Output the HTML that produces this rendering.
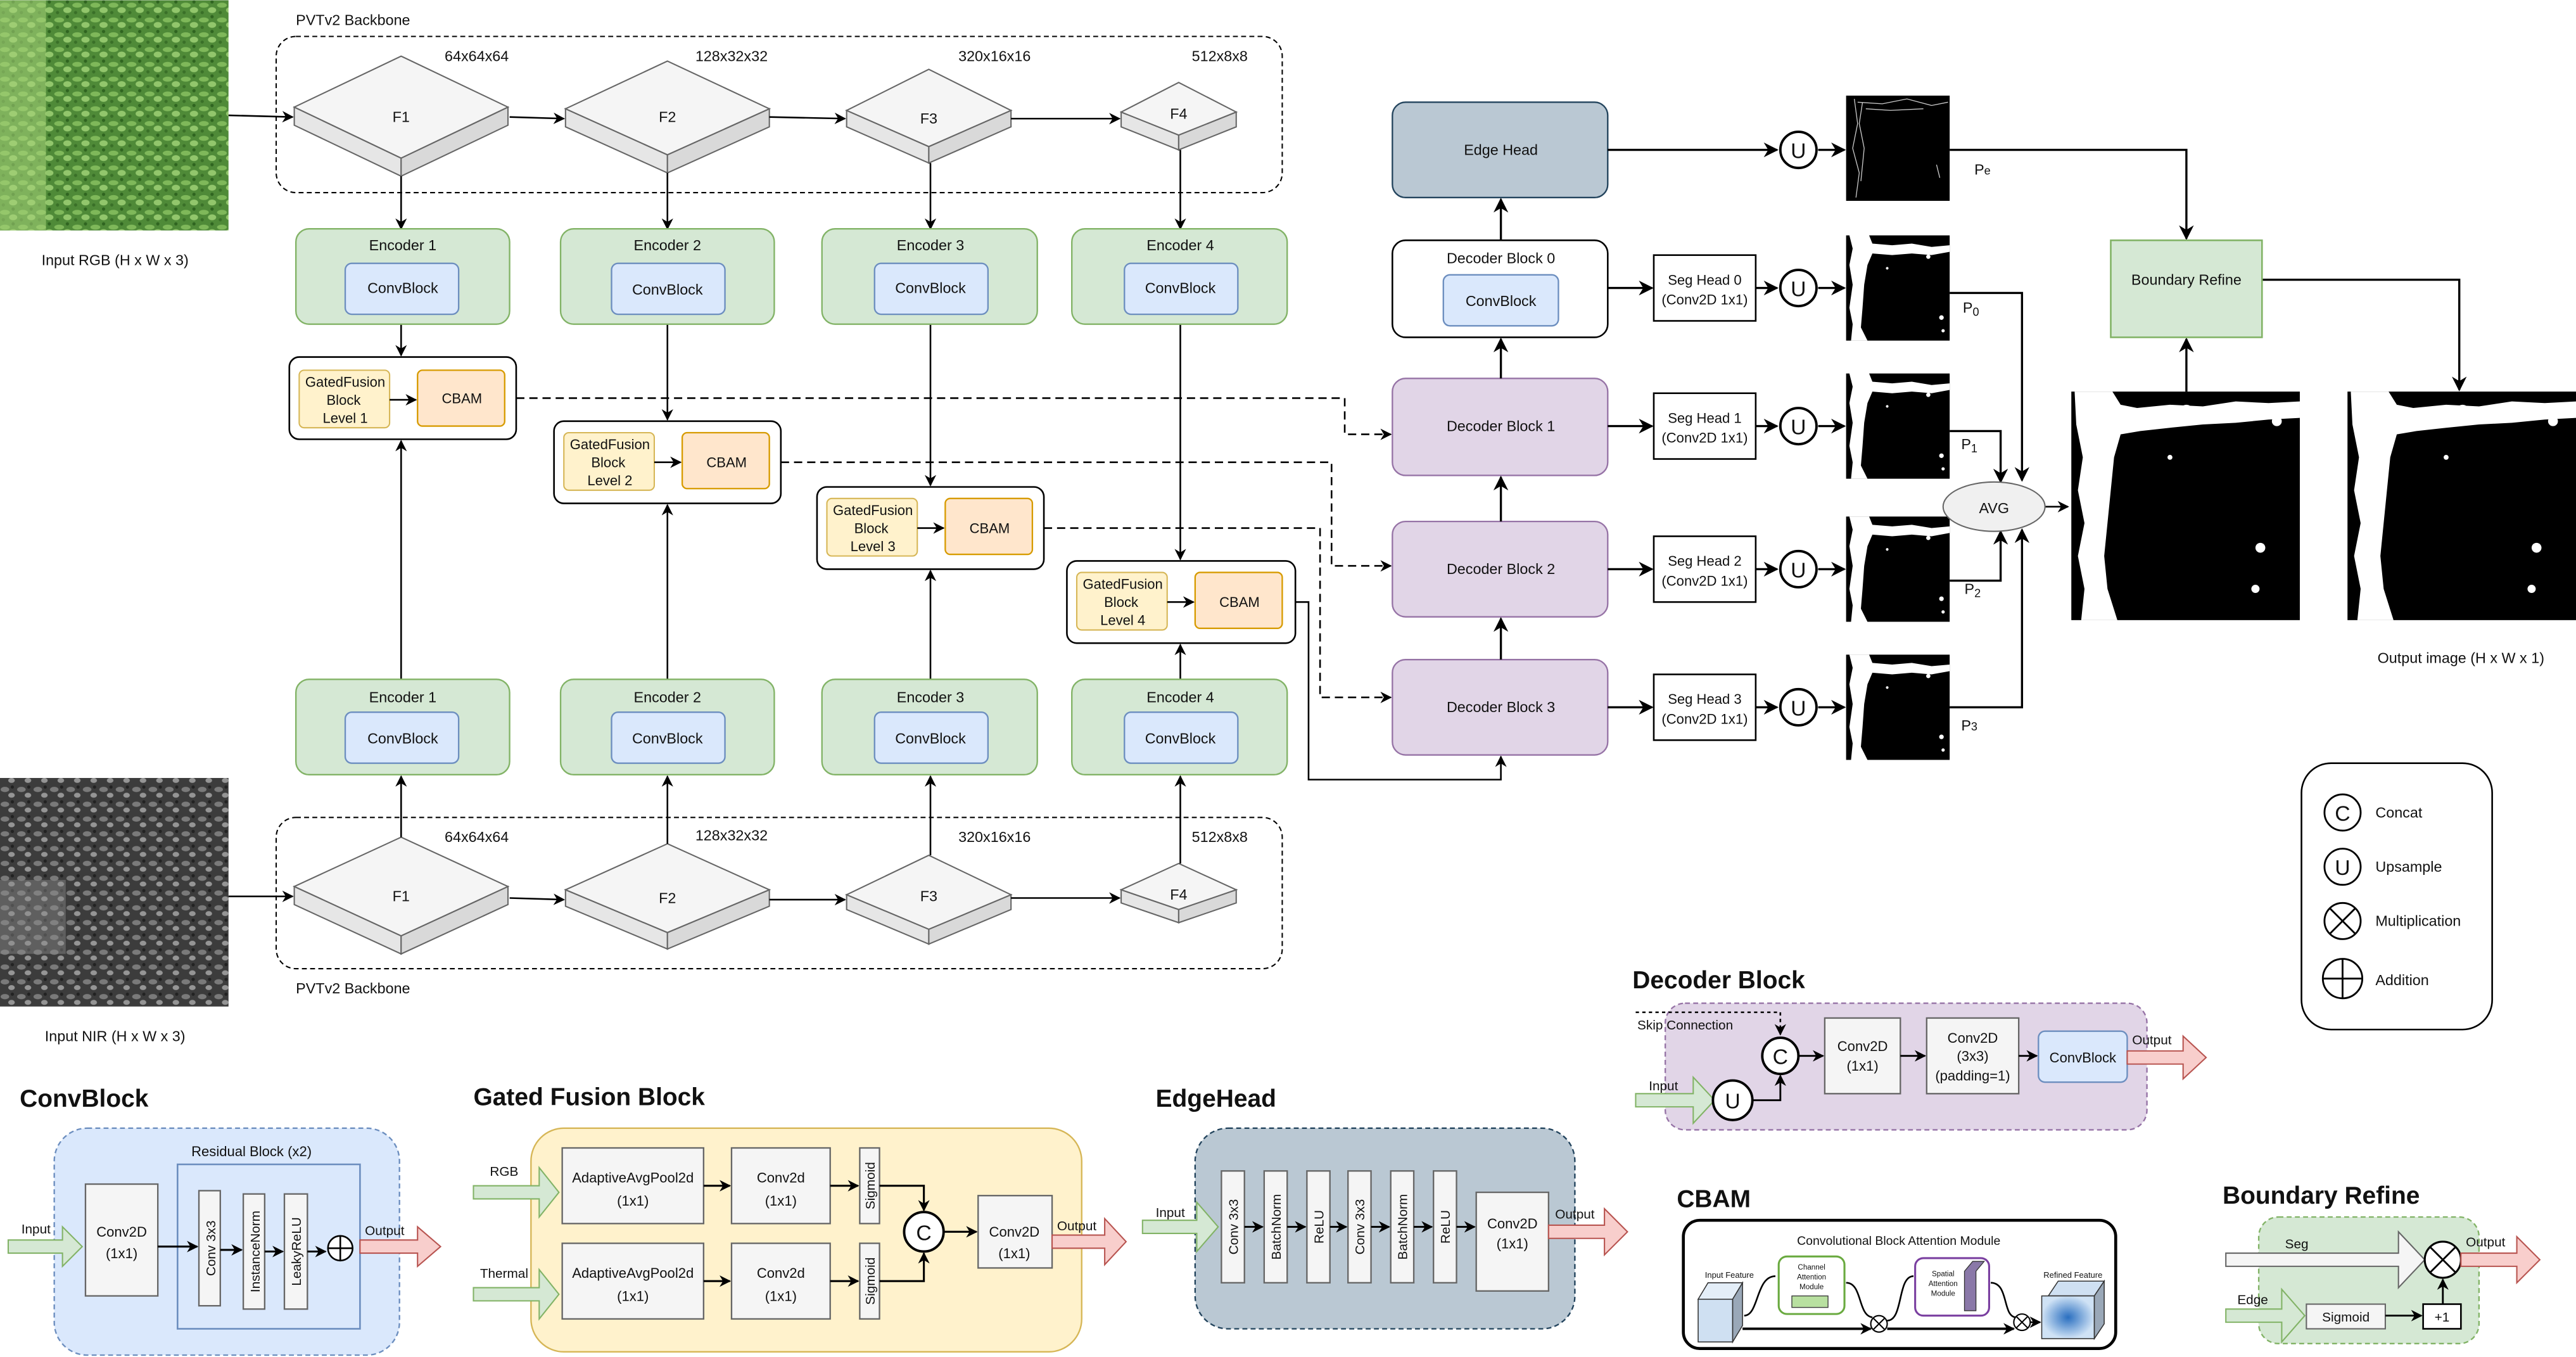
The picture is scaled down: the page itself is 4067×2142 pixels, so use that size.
<!DOCTYPE html>
<html><head><meta charset="utf-8"><style>
html,body{margin:0;padding:0;background:#fff;}
svg{display:block;}
text{font-family:"Liberation Sans",sans-serif;fill:#111;}
</style></head><body>
<svg width="4067" height="2142" viewBox="0 0 1567 825" xmlns="http://www.w3.org/2000/svg">
<defs>
<marker id="a" viewBox="0 0 10 10" refX="9" refY="5" markerWidth="7" markerHeight="7" markerUnits="userSpaceOnUse" orient="auto"><path d="M0,0 L10,5 L0,10 L3,5 z" fill="#000"/></marker>
<marker id="b" viewBox="0 0 10 10" refX="9" refY="5" markerWidth="9" markerHeight="9" markerUnits="userSpaceOnUse" orient="auto"><path d="M0,0 L10,5 L0,10 L3,5 z" fill="#000"/></marker>
<pattern id="grn" width="11" height="9" patternUnits="userSpaceOnUse"><rect width="11" height="9" fill="#4f8a38"/><ellipse cx="3" cy="3" rx="3" ry="1.5" fill="#7fb85a"/><ellipse cx="8" cy="6" rx="2.5" ry="1.8" fill="#92c66c"/><circle cx="8" cy="1" r="1" fill="#2f6420"/><circle cx="2" cy="7.5" r="1" fill="#3a7028"/></pattern>
<pattern id="gry" width="10" height="9" patternUnits="userSpaceOnUse"><rect width="10" height="9" fill="#3c3c3c"/><ellipse cx="3" cy="3" rx="2.6" ry="1.6" fill="#7a7a7a"/><ellipse cx="7" cy="6.5" rx="2" ry="1.5" fill="#959595"/><circle cx="7.5" cy="1.5" r="1" fill="#222"/></pattern>
<radialGradient id="rg"><stop offset="0" stop-color="#2a6fc0"/><stop offset="1" stop-color="#cfe2f5"/></radialGradient>
<g id="mask">
<rect width="63" height="64" fill="#000"/>
<path d="M2,0 L14,0 L16,5 L28,6 L40,5 L52,7 L63,6 L63,10 L52,12 L40,11 L28,12 L16,11 L13,18 L11,30 L10,44 L9,56 L13,64 L3,64 L4,54 L2,44 L4,30 L2,18 L4,8 z" fill="#fff"/>
<circle cx="50" cy="13" r="1.3" fill="#fff"/><circle cx="58" cy="50" r="1.4" fill="#fff"/><circle cx="59" cy="58" r="1" fill="#fff"/><circle cx="25" cy="20" r="0.8" fill="#fff"/>
</g>
<g id="bmask">
<rect width="139" height="139" fill="#000"/>
<path d="M2,0 L25,0 L30,8 L40,10 L60,8 L80,9 L100,6 L120,7 L139,6 L139,16 L120,17 L100,19 L80,20 L60,22 L42,24 L30,26 L26,40 L24,60 L22,80 L20,100 L22,120 L28,139 L6,139 L8,120 L4,100 L8,80 L4,60 L7,40 L3,20 z" fill="#fff"/>
<circle cx="115" cy="95" r="3" fill="#fff"/><circle cx="112" cy="120" r="2.5" fill="#fff"/><circle cx="60" cy="40" r="1.5" fill="#fff"/><circle cx="70" cy="12" r="4" fill="#fff"/><circle cx="125" cy="18" r="3" fill="#fff"/>
</g>
</defs>

<!-- input images -->
<rect x="0" y="0" width="139" height="140" fill="url(#grn)"/>
<rect x="0" y="0" width="28" height="140" fill="#a8d47a" opacity="0.55"/>
<text x="70" y="161" font-size="9" text-anchor="middle">Input RGB (H x W x 3)</text>
<rect x="0" y="473" width="139" height="139" fill="url(#gry)"/>
<rect x="0" y="535" width="40" height="45" fill="#8a8a8a" opacity="0.45"/>
<text x="70" y="633" font-size="9" text-anchor="middle">Input NIR (H x W x 3)</text>

<!-- backbones -->
<rect x="168" y="22" width="612" height="95" rx="12" fill="none" stroke="#000" stroke-width="0.8" stroke-dasharray="3,2"/>
<text x="180" y="15" font-size="9">PVTv2 Backbone</text>
<rect x="168" y="497" width="612" height="92" rx="12" fill="none" stroke="#000" stroke-width="0.8" stroke-dasharray="3,2"/>
<text x="180" y="604" font-size="9">PVTv2 Backbone</text>

<g stroke="#666" stroke-width="0.8">
<polygon points="179,65 244,96 244,107 179,76" fill="#e6e6e6"/><polygon points="244,96 309,65 309,76 244,107" fill="#d9d9d9"/><polygon points="244,34 309,65 244,96 179,65" fill="#f5f5f5"/>
<polygon points="344,66 406,94 406,105 344,77" fill="#e6e6e6"/><polygon points="406,94 468,66 468,77 406,105" fill="#d9d9d9"/><polygon points="406,37 468,66 406,94 344,66" fill="#f5f5f5"/>
<polygon points="515,67 565,89 565,99 515,77" fill="#e6e6e6"/><polygon points="565,89 615,67 615,77 565,99" fill="#d9d9d9"/><polygon points="565,42 615,67 565,89 515,67" fill="#f5f5f5"/>
<polygon points="682,68 717,82 717,91 682,77" fill="#e6e6e6"/><polygon points="717,82 752,68 752,77 717,91" fill="#d9d9d9"/><polygon points="717,50 752,68 717,82 682,68" fill="#f5f5f5"/>
<polygon points="179,539 244,569 244,580 179,550" fill="#e6e6e6"/><polygon points="244,569 309,539 309,550 244,580" fill="#d9d9d9"/><polygon points="244,509 309,539 244,569 179,539" fill="#f5f5f5"/>
<polygon points="344,541 406,567 406,577 344,551" fill="#e6e6e6"/><polygon points="406,567 468,541 468,551 406,577" fill="#d9d9d9"/><polygon points="406,513 468,541 406,567 344,541" fill="#f5f5f5"/>
<polygon points="515,544 565,565 565,574 515,553" fill="#e6e6e6"/><polygon points="565,565 615,544 615,553 565,574" fill="#d9d9d9"/><polygon points="565,520 615,544 565,565 515,544" fill="#f5f5f5"/>
<polygon points="682,541 717,553 717,561 682,549" fill="#e6e6e6"/><polygon points="717,553 752,541 752,549 717,561" fill="#d9d9d9"/><polygon points="717,525 752,541 717,553 682,541" fill="#f5f5f5"/>
</g>
<g font-size="9" text-anchor="middle">
<text x="244" y="74">F1</text><text x="406" y="74">F2</text><text x="565" y="75">F3</text><text x="717" y="72">F4</text>
<text x="244" y="548">F1</text><text x="406" y="549">F2</text><text x="565" y="548">F3</text><text x="717" y="547">F4</text>
<text x="290" y="37">64x64x64</text><text x="445" y="37">128x32x32</text><text x="605" y="37">320x16x16</text><text x="742" y="37">512x8x8</text>
<text x="290" y="512">64x64x64</text><text x="445" y="511">128x32x32</text><text x="605" y="512">320x16x16</text><text x="742" y="512">512x8x8</text>
</g>

<g stroke="#000" stroke-width="1" fill="none" marker-end="url(#a)">
<line x1="139" y1="70" x2="178" y2="71"/><line x1="310" y1="71" x2="343" y2="72"/><line x1="468" y1="71" x2="514" y2="72"/><line x1="615" y1="72" x2="681" y2="72"/>
<line x1="139" y1="545" x2="178" y2="545"/><line x1="310" y1="546" x2="343" y2="547"/><line x1="468" y1="547" x2="514" y2="547"/><line x1="615" y1="546" x2="681" y2="546"/>
<line x1="244" y1="107" x2="244" y2="139"/><line x1="406" y1="105" x2="406" y2="139"/><line x1="566" y1="99" x2="566" y2="139"/><line x1="718" y1="91" x2="718" y2="139"/>
<line x1="244" y1="509" x2="244" y2="472"/><line x1="406" y1="513" x2="406" y2="472"/><line x1="566" y1="520" x2="566" y2="472"/><line x1="718" y1="525" x2="718" y2="472"/>
<line x1="244" y1="197" x2="244" y2="216"/><line x1="406" y1="197" x2="406" y2="255"/><line x1="566" y1="197" x2="566" y2="295"/><line x1="718" y1="197" x2="718" y2="340"/>
<line x1="244" y1="413" x2="244" y2="268"/><line x1="406" y1="413" x2="406" y2="307"/><line x1="566" y1="413" x2="566" y2="347"/><line x1="718" y1="413" x2="718" y2="392"/>
</g>

<g stroke="#82b366" stroke-width="0.9" fill="#d5e8d4">
<rect x="180" y="139" width="130" height="58" rx="8"/><rect x="341" y="139" width="130" height="58" rx="8"/><rect x="500" y="139" width="131" height="58" rx="8"/><rect x="652" y="139" width="131" height="58" rx="8"/>
<rect x="180" y="413" width="130" height="58" rx="8"/><rect x="341" y="413" width="130" height="58" rx="8"/><rect x="500" y="413" width="131" height="58" rx="8"/><rect x="652" y="413" width="131" height="58" rx="8"/>
</g>
<g stroke="#6c8ebf" stroke-width="0.9" fill="#dae8fc">
<rect x="210" y="160" width="69" height="31" rx="4"/><rect x="372" y="160" width="69" height="31" rx="4"/><rect x="532" y="160" width="69" height="31" rx="4"/><rect x="684" y="160" width="69" height="31" rx="4"/>
<rect x="210" y="433" width="69" height="31" rx="4"/><rect x="372" y="433" width="69" height="31" rx="4"/><rect x="532" y="433" width="69" height="31" rx="4"/><rect x="684" y="433" width="69" height="31" rx="4"/>
</g>
<g font-size="9" text-anchor="middle">
<text x="245" y="152">Encoder 1</text><text x="406" y="152">Encoder 2</text><text x="566" y="152">Encoder 3</text><text x="718" y="152">Encoder 4</text>
<text x="245" y="178">ConvBlock</text><text x="406" y="179">ConvBlock</text><text x="566" y="178">ConvBlock</text><text x="718" y="178">ConvBlock</text>
<text x="245" y="427">Encoder 1</text><text x="406" y="427">Encoder 2</text><text x="566" y="427">Encoder 3</text><text x="718" y="427">Encoder 4</text>
<text x="245" y="452">ConvBlock</text><text x="406" y="452">ConvBlock</text><text x="566" y="452">ConvBlock</text><text x="718" y="452">ConvBlock</text>
</g>

<g stroke="#000" stroke-width="1" fill="#fff">
<rect x="176" y="217" width="138" height="50" rx="6"/><rect x="337" y="256" width="138" height="50" rx="6"/><rect x="497" y="296" width="138" height="50" rx="6"/><rect x="649" y="341" width="139" height="50" rx="6"/>
</g>
<g stroke="#d6b656" stroke-width="0.8" fill="#fff2cc">
<rect x="182" y="225" width="55" height="35" rx="3"/><rect x="343" y="263" width="55" height="35" rx="3"/><rect x="503" y="303" width="55" height="35" rx="3"/><rect x="655" y="348" width="55" height="35" rx="3"/>
</g>
<g stroke="#d79b00" stroke-width="0.9" fill="#ffe6cc">
<rect x="254" y="225" width="53" height="34" rx="3"/><rect x="415" y="263" width="53" height="34" rx="3"/><rect x="575" y="303" width="53" height="34" rx="3"/><rect x="727" y="348" width="53" height="34" rx="3"/>
</g>
<g stroke="#000" stroke-width="1" marker-end="url(#a)">
<line x1="237" y1="243" x2="253" y2="243"/><line x1="398" y1="281" x2="414" y2="281"/><line x1="558" y1="321" x2="574" y2="321"/><line x1="710" y1="366" x2="726" y2="366"/>
</g>
<g font-size="8.5" text-anchor="middle">
<text x="210" y="235">GatedFusion</text><text x="209" y="246">Block</text><text x="210" y="257">Level 1</text><text x="281" y="245">CBAM</text>
<text x="371" y="273">GatedFusion</text><text x="370" y="284">Block</text><text x="371" y="295">Level 2</text><text x="442" y="284">CBAM</text>
<text x="531" y="313">GatedFusion</text><text x="530" y="324">Block</text><text x="531" y="335">Level 3</text><text x="602" y="324">CBAM</text>
<text x="683" y="358">GatedFusion</text><text x="682" y="369">Block</text><text x="683" y="380">Level 4</text><text x="754" y="369">CBAM</text>
</g>

<g stroke="#000" stroke-width="1" fill="none">
<polyline points="314,242 818,242 818,264 846,264" stroke-dasharray="5,3" marker-end="url(#a)"/>
<polyline points="475,281 810,281 810,344 846,344" stroke-dasharray="5,3" marker-end="url(#a)"/>
<polyline points="635,321 803,321 803,424 846,424" stroke-dasharray="5,3" marker-end="url(#a)"/>
<polyline points="788,366 796,366 796,474 913,474 913,460" marker-end="url(#a)"/>
</g>

<rect x="847" y="62" width="131" height="58" rx="8" fill="#bac8d3" stroke="#23445d" stroke-width="0.9"/>
<rect x="847" y="146" width="131" height="59" rx="8" fill="#fff" stroke="#000" stroke-width="1"/>
<rect x="878" y="167" width="70" height="31" rx="4" fill="#dae8fc" stroke="#6c8ebf" stroke-width="0.9"/>
<g fill="#e1d5e7" stroke="#9673a6" stroke-width="0.9">
<rect x="847" y="230" width="131" height="59" rx="8"/><rect x="847" y="317" width="131" height="58" rx="8"/><rect x="847" y="401" width="131" height="58" rx="8"/>
</g>
<g font-size="9" text-anchor="middle">
<text x="913" y="94">Edge Head</text><text x="913" y="160">Decoder Block 0</text><text x="913" y="186">ConvBlock</text>
<text x="913" y="262">Decoder Block 1</text><text x="913" y="349">Decoder Block 2</text><text x="913" y="433">Decoder Block 3</text>
</g>
<g stroke="#000" stroke-width="1.3" marker-end="url(#b)">
<line x1="913" y1="401" x2="913" y2="376"/><line x1="913" y1="317" x2="913" y2="290"/><line x1="913" y1="230" x2="913" y2="206"/><line x1="913" y1="146" x2="913" y2="121"/>
<line x1="978" y1="91" x2="1081" y2="91"/>
<line x1="978" y1="175" x2="1005" y2="175"/><line x1="978" y1="259" x2="1005" y2="259"/><line x1="978" y1="346" x2="1005" y2="346"/><line x1="978" y1="430" x2="1005" y2="430"/>
<line x1="1068" y1="175" x2="1081" y2="175"/><line x1="1068" y1="259" x2="1081" y2="259"/><line x1="1068" y1="346" x2="1081" y2="346"/><line x1="1068" y1="430" x2="1081" y2="430"/>
<line x1="1106" y1="91" x2="1122" y2="91"/><line x1="1106" y1="175" x2="1122" y2="175"/><line x1="1106" y1="259" x2="1122" y2="259"/><line x1="1106" y1="346" x2="1122" y2="346"/><line x1="1106" y1="430" x2="1122" y2="430"/>
</g>
<g fill="#fff" stroke="#000" stroke-width="1">
<rect x="1006" y="155" width="62" height="40"/><rect x="1006" y="239" width="62" height="40"/><rect x="1006" y="326" width="62" height="40"/><rect x="1006" y="410" width="62" height="40"/>
</g>
<g font-size="8.5" text-anchor="middle">
<text x="1037" y="173">Seg Head 0</text><text x="1037" y="185">(Conv2D 1x1)</text>
<text x="1037" y="257">Seg Head 1</text><text x="1037" y="269">(Conv2D 1x1)</text>
<text x="1037" y="344">Seg Head 2</text><text x="1037" y="356">(Conv2D 1x1)</text>
<text x="1037" y="428">Seg Head 3</text><text x="1037" y="440">(Conv2D 1x1)</text>
</g>
<g fill="#fff" stroke="#000" stroke-width="1.5">
<circle cx="1094" cy="91" r="11"/><circle cx="1094" cy="175" r="11"/><circle cx="1094" cy="259" r="11"/><circle cx="1094" cy="346" r="11"/><circle cx="1094" cy="430" r="11"/>
</g>
<g font-size="13" text-anchor="middle">
<text x="1094" y="96">U</text><text x="1094" y="180">U</text><text x="1094" y="264">U</text><text x="1094" y="351">U</text><text x="1094" y="435">U</text>
</g>
<rect x="1123" y="58" width="63" height="64" fill="#000"/>
<path d="M1128,60 L1130,75 L1127,90 L1131,105 L1129,120 M1133,62 L1131,75 L1134,90 L1132,110 M1130,62 L1145,63 L1160,60 L1175,64 L1185,62 M1135,66 L1150,67 L1170,66 M1178,100 L1180,108" stroke="#ccc" stroke-width="0.5" fill="none"/>
<use href="#mask" x="1123" y="143"/><use href="#mask" x="1123" y="227"/><use href="#mask" x="1123" y="314"/><use href="#mask" x="1123" y="398"/>
<g font-size="9">
<text x="1201" y="106">P<tspan font-size="7">e</tspan></text>
<text x="1194" y="190">P<tspan font-size="7" dy="2">0</tspan></text>
<text x="1193" y="273">P<tspan font-size="7" dy="2">1</tspan></text>
<text x="1195" y="361">P<tspan font-size="7" dy="2">2</tspan></text>
<text x="1193" y="444">P<tspan font-size="7">3</tspan></text>
</g>
<g stroke="#000" stroke-width="1.3" fill="none" marker-end="url(#b)">
<polyline points="1186,91 1330,91 1330,145"/>
<polyline points="1376,170 1496,170 1496,237"/>
<polyline points="1186,178 1230,178 1230,292"/>
<polyline points="1186,262 1217,262 1217,293"/>
<polyline points="1186,353 1217,353 1217,323"/>
<polyline points="1186,430 1230,430 1230,322"/>
<line x1="1330" y1="238" x2="1330" y2="206"/>
</g>
<line x1="1244" y1="308" x2="1258" y2="308" stroke="#000" stroke-width="1" marker-end="url(#a)"/>
<ellipse cx="1213" cy="308" rx="31" ry="15" fill="#f0f0f0" stroke="#666" stroke-width="0.8"/>
<text x="1213" y="312" font-size="9" text-anchor="middle">AVG</text>
<rect x="1284" y="146" width="92" height="59" fill="#d5e8d4" stroke="#82b366" stroke-width="1"/>
<text x="1330" y="173" font-size="9" text-anchor="middle">Boundary Refine</text>
<use href="#bmask" x="1260" y="238"/><use href="#bmask" x="1428" y="238"/>
<text x="1497" y="403" font-size="9" text-anchor="middle">Output image (H x W x 1)</text>

<rect x="1400" y="464" width="116" height="162" rx="18" fill="#fff" stroke="#000" stroke-width="1"/>
<g fill="#fff" stroke="#000" stroke-width="1.1">
<circle cx="1425" cy="494" r="11"/><circle cx="1425" cy="527" r="11"/><circle cx="1425" cy="560" r="11"/><circle cx="1425" cy="595" r="12"/>
<path d="M1417,552 L1433,568 M1433,552 L1417,568 M1413,595 L1437,595 M1425,583 L1425,607" fill="none"/>
</g>
<g font-size="13" text-anchor="middle"><text x="1425" y="499">C</text><text x="1425" y="532">U</text></g>
<g font-size="9"><text x="1445" y="497">Concat</text><text x="1445" y="530">Upsample</text><text x="1445" y="563">Multiplication</text><text x="1445" y="599">Addition</text></g>

<g font-size="15" font-weight="bold">
<text x="12" y="673">ConvBlock</text><text x="288" y="672">Gated Fusion Block</text><text x="703" y="673">EdgeHead</text>
<text x="993" y="601">Decoder Block</text><text x="1020" y="734">CBAM</text><text x="1352" y="732">Boundary Refine</text>
</g>

<rect x="33" y="686" width="210" height="138" rx="20" fill="#dae8fc" stroke="#6c8ebf" stroke-width="0.9" stroke-dasharray="3,2"/>
<text x="153" y="703" font-size="8.5" text-anchor="middle">Residual Block (x2)</text>
<rect x="108" y="708" width="111" height="100" fill="#dae8fc" stroke="#6c8ebf" stroke-width="1"/>
<g fill="#f5f5f5" stroke="#666" stroke-width="0.9">
<rect x="52" y="720" width="44" height="68"/><rect x="121" y="724" width="13" height="70"/><rect x="148" y="726" width="13" height="70"/><rect x="173" y="726" width="14" height="70"/>
</g>
<text x="74" y="752" font-size="8.5" text-anchor="middle">Conv2D</text><text x="74" y="765" font-size="8.5" text-anchor="middle">(1x1)</text>
<g font-size="8" text-anchor="middle">
<text transform="translate(131,759) rotate(-90)">Conv 3x3</text><text transform="translate(158,761) rotate(-90)">InstanceNorm</text><text transform="translate(183,761) rotate(-90)">LeakyReLU</text>
</g>
<g stroke="#000" stroke-width="1.2" marker-end="url(#a)">
<line x1="96" y1="758" x2="120" y2="758"/><line x1="134" y1="760" x2="147" y2="760"/><line x1="161" y1="761" x2="172" y2="761"/><line x1="187" y1="761" x2="198" y2="761"/>
</g>
<circle cx="207" cy="759" r="7.5" fill="#fff" stroke="#000" stroke-width="1"/><path d="M199.5,759 H214.5 M207,751.5 V766.5" stroke="#000" stroke-width="1"/>
<polygon points="5,754 38,754 38,746 50,758 38,770 38,762 5,762" fill="#d5e8d4" stroke="#82b366" stroke-width="0.8"/>
<text x="13" y="750" font-size="8">Input</text>
<polygon points="219,754 254,754 254,746 268,758 254,770 254,762 219,762" fill="#f8cecc" stroke="#b85450" stroke-width="0.8"/>
<text x="222" y="751" font-size="8">Output</text>

<rect x="323" y="686" width="335" height="136" rx="20" fill="#fff2cc" stroke="#d6b656" stroke-width="0.9"/>
<g fill="#f5f5f5" stroke="#666" stroke-width="0.9">
<rect x="342" y="698" width="86" height="46"/><rect x="342" y="756" width="86" height="46"/>
<rect x="445" y="698" width="60" height="46"/><rect x="445" y="756" width="60" height="46"/>
<rect x="523" y="698" width="12" height="46"/><rect x="523" y="756" width="12" height="46"/>
<rect x="595" y="727" width="45" height="44"/>
</g>
<g font-size="8.5" text-anchor="middle">
<text x="385" y="719">AdaptiveAvgPool2d</text><text x="385" y="733">(1x1)</text>
<text x="385" y="777">AdaptiveAvgPool2d</text><text x="385" y="791">(1x1)</text>
<text x="475" y="719">Conv2d</text><text x="475" y="733">(1x1)</text>
<text x="475" y="777">Conv2d</text><text x="475" y="791">(1x1)</text>
<text x="617" y="752">Conv2D</text><text x="617" y="765">(1x1)</text>
<text transform="translate(532,721) rotate(-90)" font-size="8">Sigmoid</text>
<text transform="translate(532,779) rotate(-90)" font-size="8">Sigmoid</text>
</g>
<g stroke="#000" stroke-width="1.2" fill="none" marker-end="url(#a)">
<line x1="428" y1="721" x2="444" y2="721"/><line x1="428" y1="779" x2="444" y2="779"/>
<line x1="505" y1="721" x2="522" y2="721"/><line x1="505" y1="779" x2="522" y2="779"/>
<polyline points="535,721 562,721 562,736"/><polyline points="535,779 562,779 562,762"/>
<line x1="574" y1="749" x2="594" y2="749"/>
</g>
<circle cx="562" cy="749" r="12" fill="#fff" stroke="#000" stroke-width="1.5"/><text x="562" y="754" font-size="13" text-anchor="middle">C</text>
<polygon points="288,721 328,721 328,710 340,725 328,740 328,729 288,729" fill="#d5e8d4" stroke="#82b366" stroke-width="0.8"/>
<polygon points="288,783 328,783 328,772 340,787 328,802 328,791 288,791" fill="#d5e8d4" stroke="#82b366" stroke-width="0.8"/>
<text x="298" y="715" font-size="8">RGB</text><text x="292" y="777" font-size="8">Thermal</text>
<polygon points="640,751 672,751 672,741 685,755 672,769 672,759 640,759" fill="#f8cecc" stroke="#b85450" stroke-width="0.8"/>
<text x="643" y="748" font-size="8">Output</text>

<rect x="727" y="686" width="231" height="122" rx="20" fill="#bac8d3" stroke="#23445d" stroke-width="0.9" stroke-dasharray="3,2"/>
<g fill="#f5f5f5" stroke="#666" stroke-width="0.9">
<rect x="743" y="712" width="14" height="68"/><rect x="769" y="712" width="14" height="68"/><rect x="795" y="712" width="14" height="68"/><rect x="820" y="712" width="14" height="68"/><rect x="846" y="712" width="14" height="68"/><rect x="872" y="712" width="14" height="68"/>
<rect x="898" y="725" width="44" height="60"/>
</g>
<g font-size="8" text-anchor="middle">
<text transform="translate(753,746) rotate(-90)">Conv 3x3</text><text transform="translate(779,746) rotate(-90)">BatchNorm</text><text transform="translate(805,746) rotate(-90)">ReLU</text>
<text transform="translate(830,746) rotate(-90)">Conv 3x3</text><text transform="translate(856,746) rotate(-90)">BatchNorm</text><text transform="translate(882,746) rotate(-90)">ReLU</text>
</g>
<text x="920" y="747" font-size="8.5" text-anchor="middle">Conv2D</text><text x="920" y="759" font-size="8.5" text-anchor="middle">(1x1)</text>
<g stroke="#000" stroke-width="1.1" marker-end="url(#a)">
<line x1="757" y1="746" x2="768" y2="746"/><line x1="783" y1="746" x2="794" y2="746"/><line x1="809" y1="746" x2="819" y2="746"/><line x1="834" y1="746" x2="845" y2="746"/><line x1="860" y1="746" x2="871" y2="746"/><line x1="886" y1="746" x2="897" y2="746"/>
</g>
<polygon points="695,742 728,742 728,731 741,746 728,761 728,750 695,750" fill="#d5e8d4" stroke="#82b366" stroke-width="0.8"/>
<text x="703" y="740" font-size="8">Input</text>
<polygon points="942,745 976,745 976,735 990,749 976,763 976,753 942,753" fill="#f8cecc" stroke="#b85450" stroke-width="0.8"/>
<text x="946" y="741" font-size="8">Output</text>

<rect x="1013" y="610" width="293" height="77" rx="12" fill="#e1d5e7" stroke="#9673a6" stroke-width="0.9" stroke-dasharray="3,2"/>
<polyline points="995,615.5 1083,615.5 1083,629" stroke="#000" stroke-width="1" fill="none" stroke-dasharray="2,2" marker-end="url(#a)"/>
<text x="996" y="626" font-size="8">Skip Connection</text>
<g fill="#f5f5f5" stroke="#666" stroke-width="0.9">
<rect x="1110" y="619" width="46" height="46"/><rect x="1172" y="619" width="56" height="46"/>
</g>
<rect x="1240" y="627" width="54" height="31" rx="4" fill="#dae8fc" stroke="#6c8ebf" stroke-width="0.9"/>
<g font-size="8.5" text-anchor="middle">
<text x="1133" y="639">Conv2D</text><text x="1133" y="651">(1x1)</text>
<text x="1200" y="634">Conv2D</text><text x="1200" y="645">(3x3)</text><text x="1200" y="657">(padding=1)</text>
<text x="1267" y="646">ConvBlock</text>
</g>
<g stroke="#000" stroke-width="1.1" fill="none" marker-end="url(#a)">
<polyline points="1066,669 1083,669 1083,654"/>
<line x1="1094" y1="642" x2="1109" y2="642"/><line x1="1156" y1="642" x2="1171" y2="642"/><line x1="1228" y1="642" x2="1239" y2="642"/>
</g>
<polygon points="995,665 1030,665 1030,655 1043,669 1030,683 1030,673 995,673" fill="#d5e8d4" stroke="#82b366" stroke-width="0.8"/>
<text x="1003" y="663" font-size="8">Input</text>
<circle cx="1083" cy="642" r="11" fill="#fff" stroke="#000" stroke-width="1.5"/><text x="1083" y="647" font-size="13" text-anchor="middle">C</text>
<circle cx="1054" cy="669" r="12" fill="#fff" stroke="#000" stroke-width="1.5"/><text x="1054" y="674" font-size="13" text-anchor="middle">U</text>
<polygon points="1294,639 1328,639 1328,630 1342,643 1328,656 1328,647 1294,647" fill="#f8cecc" stroke="#b85450" stroke-width="0.8"/>
<text x="1297" y="635" font-size="8">Output</text>

<rect x="1024" y="742" width="263" height="78" rx="10" fill="#fff" stroke="#000" stroke-width="1.8"/>
<text x="1155" y="757" font-size="7.5" text-anchor="middle">Convolutional Block Attention Module</text>
<text x="1052" y="777" font-size="5" text-anchor="middle">Input Feature</text>
<polygon points="1033,790 1039,780 1060,780 1054,790" fill="#e4eef8" stroke="#333" stroke-width="0.6"/>
<rect x="1033" y="790" width="21" height="26" fill="#cfe0f2" stroke="#333" stroke-width="0.6"/>
<polygon points="1054,790 1060,780 1060,806 1054,816" fill="#9aa8b8" stroke="#333" stroke-width="0.6"/>
<rect x="1082" y="764" width="40" height="35" rx="5" fill="#fff" stroke="#6aaa40" stroke-width="1.2"/>
<text x="1102" y="772" font-size="4.5" text-anchor="middle">Channel</text><text x="1102" y="778" font-size="4.5" text-anchor="middle">Attention</text><text x="1102" y="784" font-size="4.5" text-anchor="middle">Module</text>
<rect x="1090" y="788" width="22" height="7" fill="#b8e0a0" stroke="#333" stroke-width="0.5"/>
<rect x="1165" y="765" width="45" height="35" rx="5" fill="#fff" stroke="#7a3fa0" stroke-width="1.2"/>
<text x="1182" y="776" font-size="4.5" text-anchor="middle">Spatial</text><text x="1182" y="782" font-size="4.5" text-anchor="middle">Attention</text><text x="1182" y="788" font-size="4.5" text-anchor="middle">Module</text>
<polygon points="1195,773 1200,767 1207,767 1202,773 1202,797 1195,797" fill="#8a78a8" stroke="#333" stroke-width="0.5"/>
<text x="1261" y="777" font-size="5" text-anchor="middle">Refined Feature</text>
<polygon points="1246,788 1252,779 1280,779 1274,788" fill="#cfe0f2" stroke="#333" stroke-width="0.6"/>
<rect x="1242" y="788" width="32" height="26" fill="url(#rg)" stroke="#333" stroke-width="0.6"/>
<polygon points="1274,788 1280,779 1280,805 1274,814" fill="#9aa8b8" stroke="#333" stroke-width="0.6"/>
<g stroke="#000" stroke-width="1" fill="none">
<path d="M1061,800 C1070,800 1068,776 1080,776"/><path d="M1123,780 C1133,780 1130,800 1139,801"/>
<path d="M1148,803 C1158,803 1154,776 1164,776"/><path d="M1211,780 C1222,780 1218,800 1226,801"/>
<line x1="1060" y1="808" x2="1138" y2="808" stroke-width="1.5" marker-end="url(#a)"/>
<line x1="1148" y1="808" x2="1225" y2="808" stroke-width="1.5" marker-end="url(#a)"/>
<line x1="1235" y1="804" x2="1241" y2="804" marker-end="url(#a)"/>
</g>
<g fill="#fff" stroke="#000" stroke-width="0.8">
<circle cx="1143" cy="805" r="5"/><circle cx="1230" cy="804" r="5"/>
<path d="M1139.5,801.5 L1146.5,808.5 M1146.5,801.5 L1139.5,808.5 M1226.5,800.5 L1233.5,807.5 M1233.5,800.5 L1226.5,807.5" fill="none"/>
</g>

<rect x="1374" y="740" width="134" height="77" rx="12" fill="#d5e8d4" stroke="#82b366" stroke-width="0.9" stroke-dasharray="3,2"/>
<polygon points="1354,762 1459,762 1459,749 1475,766 1459,783 1459,770 1354,770" fill="#f5f5f5" stroke="#666" stroke-width="0.8"/>
<text x="1390" y="759" font-size="8">Seg</text>
<circle cx="1486" cy="766" r="11" fill="#fff" stroke="#000" stroke-width="1.2"/>
<path d="M1478,758 L1494,774 M1494,758 L1478,774" stroke="#000" stroke-width="1.1"/>
<polygon points="1497,762 1531,762 1531,752 1545,766 1531,780 1531,770 1497,770" fill="#f8cecc" stroke="#b85450" stroke-width="0.8"/>
<text x="1500" y="758" font-size="8">Output</text>
<polygon points="1354,796 1388,796 1388,784 1402,800 1388,816 1388,804 1354,804" fill="#d5e8d4" stroke="#82b366" stroke-width="0.8"/>
<text x="1361" y="793" font-size="8">Edge</text>
<rect x="1403" y="793" width="48" height="15" fill="#f5f5f5" stroke="#666" stroke-width="0.8"/>
<text x="1427" y="803.5" font-size="8" text-anchor="middle">Sigmoid</text>
<rect x="1474" y="793" width="23" height="15" fill="#fff" stroke="#000" stroke-width="1"/>
<text x="1485.5" y="803.5" font-size="8" text-anchor="middle">+1</text>
<g stroke="#000" stroke-width="1.1" marker-end="url(#a)">
<line x1="1451" y1="800" x2="1473" y2="800"/><line x1="1486" y1="793" x2="1486" y2="778"/>
</g>
</svg>
</body></html>
